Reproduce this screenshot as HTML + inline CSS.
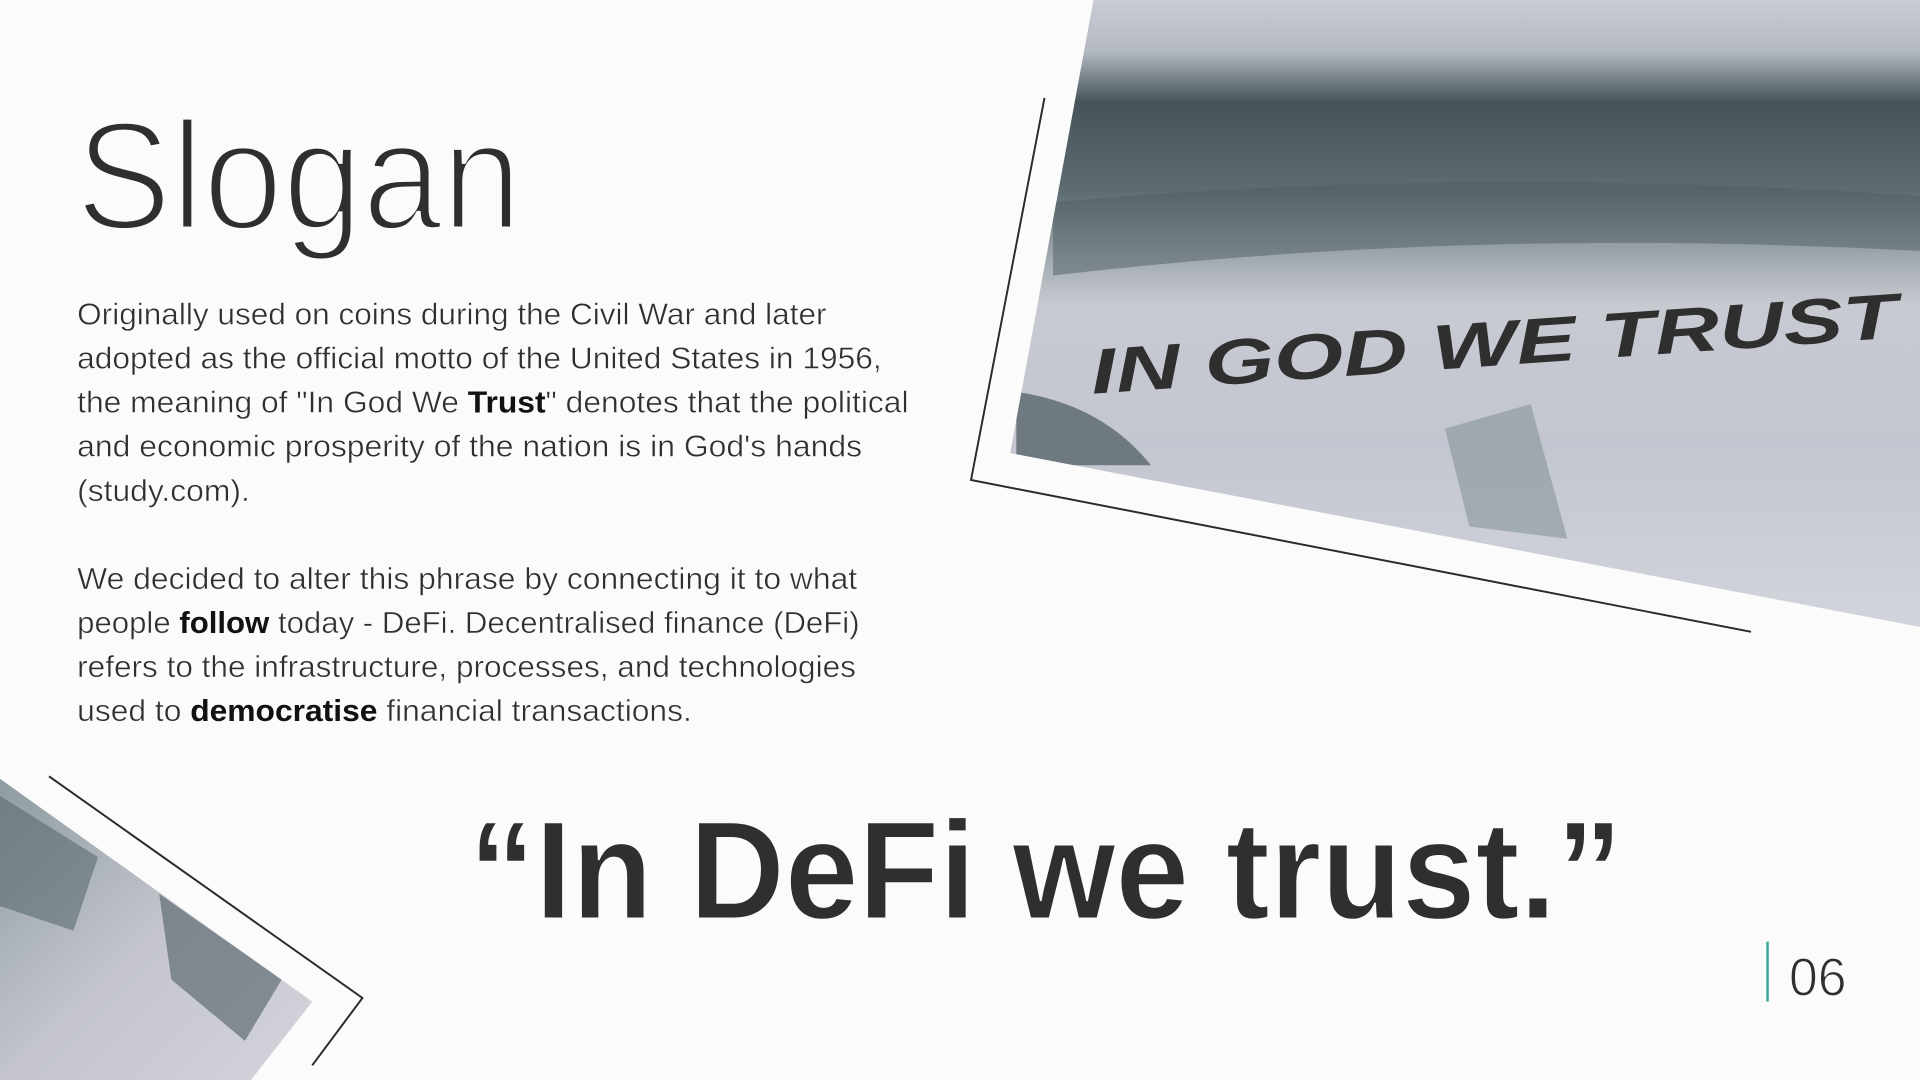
<!DOCTYPE html>
<html><head><meta charset="utf-8"><style>
html,body{margin:0;padding:0;background:#fbfbfb;}
svg{display:block;}
text{font-family:"Liberation Sans",sans-serif;fill:#2f2f2f;}
</style></head><body>
<svg width="1920" height="1080" viewBox="0 0 1568 882" xmlns="http://www.w3.org/2000/svg">
<defs>
<linearGradient id="bill" x1="0" y1="0" x2="0" y2="1">
<stop offset="0" stop-color="#c9ccd4"/>
<stop offset="0.08" stop-color="#b4b9c2"/>
<stop offset="0.16" stop-color="#46545a"/>
<stop offset="0.3" stop-color="#5c6c70"/>
<stop offset="0.4" stop-color="#9ea7ac"/>
<stop offset="0.48" stop-color="#c8cad2"/>
<stop offset="0.7" stop-color="#c3c6d0"/>
<stop offset="1" stop-color="#d3d5dd"/>
</linearGradient>
<linearGradient id="bill2" x1="0" y1="0" x2="1" y2="1">
<stop offset="0" stop-color="#8c9ba0"/>
<stop offset="0.5" stop-color="#c3c4cc"/>
<stop offset="1" stop-color="#d4d4dc"/>
</linearGradient>
<clipPath id="c1"><polygon points="893,0 1568,0 1568,512 825,370"/></clipPath>
<clipPath id="c2"><polygon points="0,636 255,818 205,882 0,882"/></clipPath>
</defs>
<rect width="1568" height="882" fill="#fbfbfb"/>
<g clip-path="url(#c1)">
<rect x="800" y="0" width="768" height="520" fill="url(#bill)"/>
<path d="M860,165 Q1200,135 1568,160 L1568,205 Q1200,185 860,225Z" fill="#4d5d61" opacity="0.5"/>
<text x="890" y="300" font-family="Liberation Serif,serif" font-style="italic" font-weight="bold" font-size="52" fill="#34474b" transform="rotate(-4 1200 280)" textLength="660" lengthAdjust="spacingAndGlyphs">IN GOD WE TRUST</text>
<path d="M830,320 Q900,330 940,380 L830,380Z" fill="#4a5a5e" opacity="0.7"/>
<path d="M1180,350 L1250,330 L1280,440 L1200,430Z" fill="#7c8a8e" opacity="0.5"/>
</g>
<polyline points="853,80 793,392 1430,516" fill="none" stroke="#2a2a2a" stroke-width="1.6"/>
<g clip-path="url(#c2)">
<rect x="0" y="630" width="260" height="252" fill="url(#bill2)"/>
<path d="M0,650 L80,700 L60,760 L0,740Z" fill="#5a6a6e" opacity="0.6"/>
<path d="M130,730 L230,800 L200,850 L140,800Z" fill="#4e5e62" opacity="0.6"/>
</g>
<polyline points="40,634 296,815 255,870" fill="none" stroke="#2a2a2a" stroke-width="1.6"/>
<text x="62" y="187" font-size="126" fill="#111" stroke="#fbfbfb" stroke-width="4" textLength="364" lengthAdjust="spacingAndGlyphs">Slogan</text>
<g font-size="25" stroke="#fbfbfb" stroke-width="0.4" fill="#222">
<text x="63" y="265" fill="#222" textLength="612" lengthAdjust="spacingAndGlyphs">Originally used on coins during the Civil War and later</text>
<text x="63" y="301" fill="#222" textLength="657" lengthAdjust="spacingAndGlyphs">adopted as the official motto of the United States in 1956,</text>
<text x="63" y="337" fill="#222" textLength="679" lengthAdjust="spacingAndGlyphs">the meaning of "In God We <tspan font-weight="bold" stroke="none" fill="#111">Trust</tspan>" denotes that the political</text>
<text x="63" y="373" fill="#222" textLength="641" lengthAdjust="spacingAndGlyphs">and economic prosperity of the nation is in God's hands</text>
<text x="63" y="409" fill="#222" textLength="141" lengthAdjust="spacingAndGlyphs">(study.com).</text>
</g>
<g font-size="25" stroke="#fbfbfb" stroke-width="0.4">
<text x="63" y="481" fill="#222" textLength="637" lengthAdjust="spacingAndGlyphs">We decided to alter this phrase by connecting it to what</text>
<text x="63" y="517" fill="#222" textLength="639" lengthAdjust="spacingAndGlyphs">people <tspan font-weight="bold" stroke="none" fill="#111">follow</tspan> today - DeFi. Decentralised finance (DeFi)</text>
<text x="63" y="553" fill="#222" textLength="636" lengthAdjust="spacingAndGlyphs">refers to the infrastructure, processes, and technologies</text>
<text x="63" y="589" fill="#222" textLength="502" lengthAdjust="spacingAndGlyphs">used to <tspan font-weight="bold" stroke="none" fill="#111">democratise</tspan> financial transactions.</text>
</g>
<text x="383" y="750" font-size="114" font-weight="bold" fill="#333" stroke="#fbfbfb" stroke-width="1.5" textLength="942" lengthAdjust="spacingAndGlyphs">“In DeFi we trust.”</text>
<line x1="1443.5" y1="769" x2="1443.5" y2="818" stroke="#3aa39a" stroke-width="2"/>
<text x="1461" y="813" font-size="44" fill="#333" stroke="#fbfbfb" stroke-width="1" textLength="47" lengthAdjust="spacingAndGlyphs">06</text>
</svg>
</body></html>
